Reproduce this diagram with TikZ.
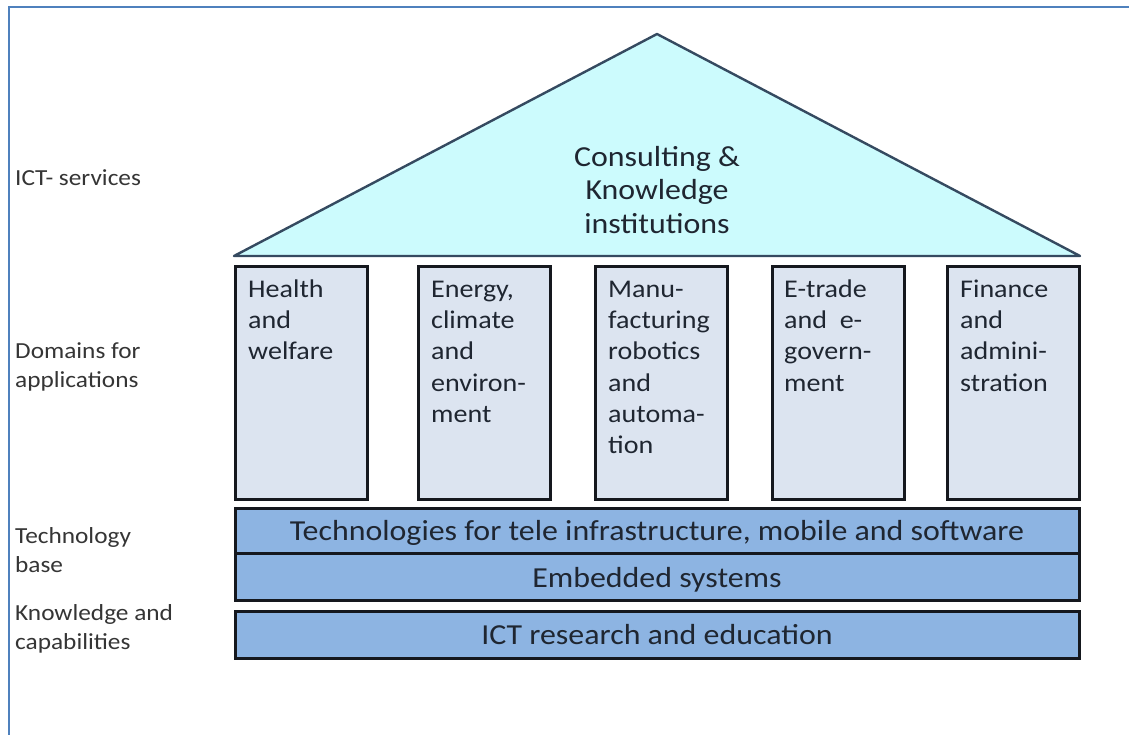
\documentclass[tikz,border=0pt]{standalone}
\usepackage{fontspec}
\setmainfont{Carlito}[FakeStretch=1.1]
\definecolor{framecol}{HTML}{4F81BD}
\definecolor{rooffill}{HTML}{CCFBFD}
\definecolor{roofline}{HTML}{354A60}
\definecolor{colfill}{HTML}{DCE4F0}
\definecolor{barfill}{HTML}{8DB4E2}
\definecolor{edgecol}{HTML}{15181E}
\definecolor{txt}{HTML}{1F2631}
\definecolor{sidetxt}{HTML}{353535}
\newcommand{\firstline}[1]{\rule{0pt}{#1}}
\begin{document}
\begin{tikzpicture}[x=1bp,y=-1bp,
  frameline/.style={draw=framecol, line width=1.6bp},
  roof/.style={draw=roofline, fill=rooffill, line width=2.4bp, line join=round},
  colbox/.style={rectangle, draw=edgecol, fill=colfill, line width=2.8bp,
    inner sep=0, anchor=north west, minimum width=132bp, minimum height=233bp},
  barbox/.style={rectangle, draw=edgecol, fill=barfill, line width=2.6bp,
    inner sep=0, anchor=north west, minimum width=844bp},
  coltext/.style={anchor=north west, align=left, inner sep=0, text=txt,
    font=\fontsize{25.5bp}{31.3bp}\selectfont},
  roottext/.style={anchor=north, align=center, inner sep=0, text=txt,
    font=\fontsize{29bp}{33.5bp}\selectfont},
  bartext/.style={anchor=base, inner sep=0, text=txt,
    font=\fontsize{29bp}{34bp}\selectfont},
  sidelabel/.style={anchor=north west, align=left, inner sep=0, text=sidetxt,
    font=\fontsize{23bp}{29.5bp}\selectfont}]
\useasboundingbox (0,0) rectangle (1129,735);
\fill[white] (0,0) rectangle (1129,735);

% outer frame (top and left edges)
\draw[frameline] (9,735) -- (9,7) -- (1129,7);

% roof
\coordinate (eaveL) at (234,256);
\coordinate (apex) at (657,34);
\coordinate (eaveR) at (1080,256);
\draw[roof] (eaveL) -- (apex) -- (eaveR) -- cycle;
\node[roottext] (rooflabel) at (657,142)
  {\firstline{24bp}Consulting \&\\Knowledge\\institutions};

% pillars
\node[colbox] (c1) at (234,265) {};
\node[colbox] (c2) at (417,265) {};
\node[colbox] (c3) at (594,265) {};
\node[colbox] (c4) at (771,265) {};
\node[colbox] (c5) at (946,265) {};
\node[coltext] (t1) at ([xshift=14bp,yshift=-14bp]c1.north west)
  {\firstline{18bp}Health\\and\\welfare};
\node[coltext] (t2) at ([xshift=14bp,yshift=-14bp]c2.north west)
  {\firstline{18bp}Energy,\\climate\\and\\environ-\\ment};
\node[coltext] (t3) at ([xshift=14bp,yshift=-14bp]c3.north west)
  {\firstline{18bp}Manu-\\facturing\\robotics\\and\\automa-\\tion};
\node[coltext] (t4) at ([xshift=13bp,yshift=-14bp]c4.north west)
  {\firstline{18bp}E-trade\\and\ \ e-\\govern-\\ment};
\node[coltext] (t5) at ([xshift=14bp,yshift=-14bp]c5.north west)
  {\firstline{18bp}Finance\\and\\admini-\\stration};

% foundation layers
\node[barbox, minimum height=45bp] (b1) at (234,507) {};
\node[barbox, minimum height=47bp] (b2) at (234,552) {};
\node[barbox, minimum height=47bp] (b3) at (234,610) {};
\node[bartext] (bt1) at (657,540) {Technologies for tele infrastructure, mobile and software};
\node[bartext] (bt2) at (657,587) {Embedded systems};
\node[bartext] (bt3) at (657,644) {ICT research and education};

% level labels
\node[sidelabel] (l1) at (15,169) {\firstline{16bp}ICT- services};
\node[sidelabel] (l2) at (15,342) {\firstline{16bp}Domains for\\applications};
\node[sidelabel] (l3) at (15,527) {\firstline{16bp}Technology\\base};
\node[sidelabel] (l4) at (15,604) {\firstline{16bp}Knowledge and\\capabilities};
\end{tikzpicture}
\end{document}
